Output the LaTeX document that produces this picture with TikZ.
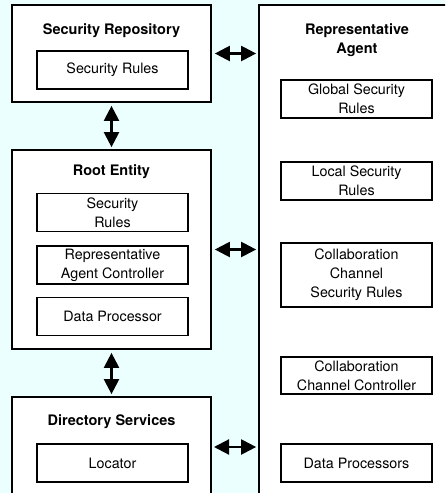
\documentclass[tikz,border=0pt]{standalone}
\usepackage{fontspec}
\setmainfont{TeX Gyre Heros}
\usetikzlibrary{arrows.meta}
\definecolor{lightcyan}{RGB}{236,255,255}

\begin{document}
\begin{tikzpicture}[x=1pt,y=-1pt]
		\tikzstyle{every node} = [font = \fontsize{14.3}{19}\selectfont]
		\tikzstyle{outer} = [draw, line width=1.7pt, fill=white, inner sep=0pt]
		\tikzstyle{inner} = [draw, line width=1.4pt, align=center, minimum width=151pt, minimum height=38pt, inner sep=0pt]
		\tikzstyle{title} = [font = \fontsize{14.5}{19}\selectfont\bfseries, align=center]
		\tikzstyle{link} = [line width=2.2pt, shorten <=3pt, shorten >=2pt, {Triangle[length=15pt,width=15pt]}-{Triangle[length=15pt,width=15pt]}]

		\fill[lightcyan] (0,0) rectangle (445,493);
		\clip (0,0) rectangle (445,493);

		% left column
		\node[outer, minimum width=199pt, minimum height=97pt] (secrepo) at (111.5,53.5) {};
		\node[outer, minimum width=199pt, minimum height=199pt] (rootent) at (111.5,249.5) {};
		\node[outer, minimum width=199pt, minimum height=113pt] (dirserv) at (111.5,453.5) {};
		% right column
		\node[outer, minimum width=201pt, minimum height=505pt] (repagent) at (359.5,257.5) {};

		\node[title] (secrepotitle) at (111.5,31) {Security Repository};
		\node[title] (rootenttitle) at (111.5,172) {Root Entity};
		\node[title] (dirservtitle) at (111.5,422) {Directory Services};
		\node[title] (repagenttitle) at (357,40) {Representative\\Agent};

		\node[inner] (reporules) at (112.5,70) {Security Rules};
		\node[inner] (rootrules) at (112.5,212.5) {Security\\Rules};
		\node[inner] (agentctrl) at (112.5,265) {Representative\\Agent Controller};
		\node[inner] (dataproc) at (112.5,316.5) {Data Processor};
		\node[inner] (locator) at (112.5,463) {Locator};

		\node[inner] (globalrules) at (356.5,99) {Global Security\\Rules};
		\node[inner] (localrules) at (356.5,181) {Local Security\\Rules};
		\node[inner, minimum height=64pt] (collabrules) at (356.5,275) {Collaboration\\Channel\\Security Rules};
		\node[inner, minimum height=37pt] (collabctrl) at (356.5,375.5) {Collaboration\\Channel Controller};
		\node[inner] (dataprocs) at (356.5,463) {Data Processors};

		\coordinate (dirport) at (211,447); %arrow level on directory services

		\draw[link] (secrepo.south) -- (rootent.north);
		\draw[link] (rootent.south) -- (dirserv.north);
		\draw[link] (secrepo.east) -- (secrepo.east -| repagent.west);
		\draw[link] (rootent.east) -- (rootent.east -| repagent.west);
		\draw[link] (dirport) -- (dirport -| repagent.west);
	\end{tikzpicture}
\end{document}
